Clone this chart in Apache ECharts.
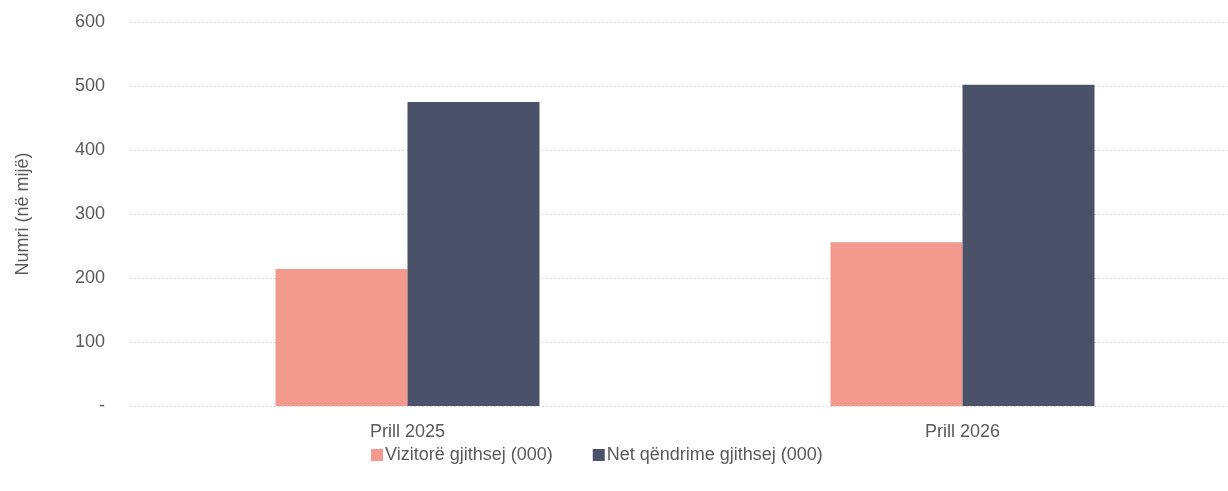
<!DOCTYPE html>
<html>
<head>
<meta charset="utf-8">
<script src="https://cdn.jsdelivr.net/npm/echarts@6/dist/echarts.min.js"></script>
<style>
html,body{margin:0;padding:0;background:#fff;}
#chart{width:1228px;height:491px;}
</style>
</head>
<body>
<div id="chart"></div>
<script>
const categories = ['Prill 2025', 'Prill 2026'];
const visitors = [214, 256];
const nights = [475, 502];
const seriesNames = ['Vizitorë gjithsej (000)', 'Net qëndrime gjithsej (000)'];
const yAxisTitle = 'Numri (në mijë)';

const chart = echarts.init(document.getElementById('chart'));
const font = 'Liberation Sans, Arial, sans-serif';
chart.setOption({
  animation: false,
  grid: { left: 130, width: 1110, top: 22, bottom: 85, containLabel: false, outerBoundsMode: 'none' },
  legend: {
    top: 441,
    left: 366,
    itemWidth: 12,
    itemHeight: 12,
    itemGap: 40,
    icon: 'rect',
    textStyle: { fontFamily: font, fontSize: 18, color: '#595959', padding: [0, 0, 0, -3] },
    data: seriesNames
  },
  xAxis: {
    type: 'category',
    data: categories,
    axisLine: { show: false },
    axisTick: { show: false },
    axisLabel: { fontFamily: font, fontSize: 18, color: '#595959', margin: 17 }
  },
  yAxis: {
    type: 'value',
    min: 0, max: 600, interval: 100,
    name: yAxisTitle,
    nameLocation: 'middle',
    nameGap: 98,
    nameTextStyle: { fontFamily: font, fontSize: 18, color: '#595959' },
    axisLine: { show: false },
    axisTick: { show: false },
    axisLabel: {
      fontFamily: font, fontSize: 18, color: '#595959', margin: 25,
      formatter: v => v === 0 ? '-' : String(v)
    },
    splitLine: { lineStyle: { color: '#d9d9d9', type: [2, 2], width: 1 } }
  },
  series: [
    { name: seriesNames[0], type: 'bar', data: visitors, barWidth: 132, barGap: '0%',
      itemStyle: { color: '#f4998d' } },
    { name: seriesNames[1], type: 'bar', data: nights, barWidth: 132,
      itemStyle: { color: '#4a5169' } }
  ]
});
</script>
</body>
</html>
